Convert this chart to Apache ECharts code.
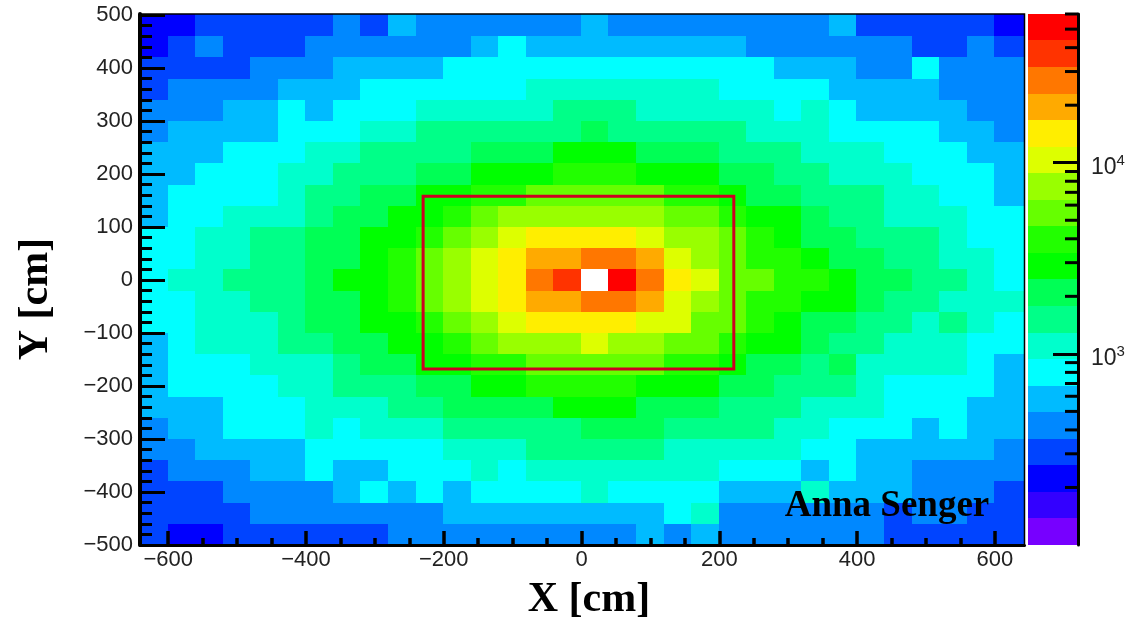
<!DOCTYPE html>
<html>
<head>
<meta charset="utf-8">
<style>html,body{margin:0;padding:0;background:#fff}#c{width:1137px;height:619px}</style>
<script src="https://cdn.jsdelivr.net/npm/echarts@6/dist/echarts.min.js"></script>
</head>
<body>
<div id="c"></div>
<script>
// Histogram bin edges (cm)
const xEdges = [-641,-601,-561,-521,-481,-441,-401,-361,-321,-281,-241,-201,-161,-121,-81,-41,-1,39,79,119,159,199,239,279,319,359,399,439,479,519,559,599,643];
const yEdges = [502,460,420,380,340,300,260,220,180,140,100,60,20,-20,-60,-100,-140,-180,-220,-260,-300,-340,-380,-420,-460,-500];

// Estimated counts per bin, one list per row, top row first
const rowY480 = [220,220,300,300,300,300,300,420,300,580,420,420,420,420,420,420,580,420,420,420,420,420,420,420,420,580,300,300,300,300,300,220];
const rowY440 = [220,300,420,300,300,300,420,420,420,420,420,420,580,790,580,580,580,580,580,580,580,580,420,420,420,420,420,420,300,300,420,300];
const rowY400 = [300,300,300,300,420,420,420,580,580,580,580,790,790,790,790,790,790,790,790,790,790,790,790,580,580,580,420,420,790,420,420,420];
const rowY360 = [300,420,420,420,420,580,580,580,790,790,790,790,790,790,1090,1090,1090,1090,1090,1090,1090,790,790,790,790,580,580,580,580,420,420,420];
const rowY320 = [420,420,420,580,580,790,580,790,790,790,1090,1090,1090,1090,1090,1500,1500,1500,1090,1090,1090,1090,1090,790,1090,790,580,580,580,580,420,420];
const rowY280 = [420,580,580,580,580,790,790,790,1090,1090,1500,1500,1500,1500,1500,1500,2060,1500,1500,1500,1500,1500,1090,1090,1090,790,790,790,790,580,580,420];
const rowY240 = [580,580,580,790,790,790,1090,1090,1500,1500,1500,1500,2060,2060,2060,2830,2830,2830,2060,2060,2060,1500,1500,1500,1090,1090,1090,790,790,790,580,580];
const rowY200 = [580,580,790,790,790,1090,1090,1500,1500,1500,2060,2060,2830,2830,2830,3890,3890,3890,2830,2830,2830,2060,2060,1500,1500,1090,1090,1090,790,790,790,580];
const rowY160 = [580,790,790,790,790,1090,1500,1500,2060,2060,2830,2830,3890,3890,5350,5350,5350,5350,5350,3890,3890,2830,2060,2060,1500,1500,1500,1090,1090,790,790,580];
const rowY120 = [580,790,790,1090,1090,1090,1500,2060,2060,2830,2830,3890,5350,7350,7350,7350,7350,7350,7350,5350,5350,3890,2830,2830,2060,1500,1500,1090,1090,1090,790,790];
const rowY80  = [790,790,1090,1090,1500,1500,2060,2060,2830,2830,3890,5350,7350,10100,13900,13900,13900,13900,10100,7350,7350,5350,3890,2830,2060,2060,1500,1500,1500,1090,790,790];
const rowY40  = [790,790,1090,1090,1500,1500,2060,2060,2830,3890,5350,7350,10100,13900,19100,19100,26300,26300,19100,10100,7350,5350,3890,3890,2830,2060,2060,1500,1500,1090,1090,790];
const rowY0   = [790,1090,1090,1500,1500,1500,2060,2830,2830,3890,5350,7350,10100,13900,26300,36200,65000,49700,26300,13900,10100,5350,5350,3890,3890,2830,2060,2060,1500,1500,1090,790];
const rowYm40 = [790,790,1090,1090,1500,1500,2060,2060,2830,3890,5350,7350,10100,13900,19100,19100,26300,26300,19100,10100,7350,5350,3890,3890,2830,2830,2060,1500,1500,1090,1090,1090];
const rowYm80 = [790,790,1090,1090,1090,1500,2060,2060,2830,2830,3890,5350,7350,10100,13900,13900,13900,13900,10100,10100,5350,5350,3890,2830,2060,2060,1500,1500,1090,1500,1090,790];
const rowYm120= [580,790,1090,1090,1090,1500,1500,2060,2060,2830,2830,3890,5350,7350,7350,7350,10100,7350,7350,5350,5350,3890,2830,2830,2060,1500,1500,1090,1090,1090,790,790];
const rowYm160= [580,790,790,790,1090,1090,1090,1500,2060,2060,2830,2830,3890,3890,5350,5350,5350,5350,5350,3890,3890,2830,2060,2060,1500,2060,1090,1090,1090,1090,790,580];
const rowYm200= [580,790,790,790,790,1090,1090,1500,1500,1500,2060,2060,2830,2830,3890,3890,3890,3890,2830,2830,2830,2060,2060,1500,1500,1500,1090,790,790,790,790,580];
const rowYm240= [580,580,580,790,790,790,1090,1090,1090,1500,1500,2060,2060,2060,2060,2830,2830,2830,2060,2060,2060,1500,1500,1500,1090,1090,1090,790,790,790,580,580];
const rowYm280= [420,580,580,790,790,790,1090,790,1090,1090,1090,1500,1500,1500,1500,1500,2060,2060,2060,1500,1500,1500,1500,1090,1090,790,790,790,580,790,580,580];
const rowYm320= [420,420,580,580,580,580,790,790,790,790,790,1090,1090,1090,1500,1500,1500,1500,1500,1090,1090,1090,1090,1090,790,790,580,580,580,580,580,420];
const rowYm360= [300,420,420,420,580,580,790,580,580,790,790,790,1090,790,1090,1090,1090,1090,1090,1090,1090,790,790,790,580,790,580,580,420,420,420,420];
const rowYm400= [300,300,300,420,420,420,420,580,790,580,790,580,790,790,790,790,1090,790,790,790,790,580,580,580,1090,580,580,580,420,420,420,300];
const rowYm440= [300,300,300,300,420,420,420,420,420,420,420,580,580,580,580,580,580,580,580,790,1090,420,420,420,420,420,420,300,420,420,300,300];
const rowYm480= [300,220,220,300,300,300,300,300,300,420,420,420,420,420,420,420,420,420,580,420,580,420,420,420,420,420,420,300,300,300,300,300];
const rows = [rowY480,rowY440,rowY400,rowY360,rowY320,rowY280,rowY240,rowY200,rowY160,rowY120,rowY80,rowY40,rowY0,rowYm40,rowYm80,rowYm120,rowYm160,rowYm200,rowYm240,rowYm280,rowYm320,rowYm360,rowYm400,rowYm440,rowYm480];

// Colour scale: bin edges of the palette and its colours, low to high
const zEdges = [100,138,190,261,360,495,682,939,1293,1780,2450,3374,4646,6397,8810,12130,16700,23000,31670,43610,60000];
const zColors = ['#7700ff','#3300ff','#0000ff','#0044ff','#0088ff','#00bbff','#00ffff','#00ffcc','#00ff88','#00ff55','#00ff00','#22ff00','#66ff00','#99ff00','#ddff00','#ffee00','#ffaa00','#ff7700','#ff3300','#ff0000'];
const zMinorTicks = [200,300,400,500,600,700,800,900,2000,3000,4000,5000,6000,7000,8000,9000,20000,30000,40000,50000,60000];

// Tick labels
const xMajorTicks = [-600,-400,-200,0,200,400,600];
const xMinorTicks = [-550,-500,-450,-350,-300,-250,-150,-100,-50,50,100,150,250,300,350,450,500,550];
const yMajorTicks = [-500,-400,-300,-200,-100,0,100,200,300,400,500];
const yMinorTicks = [-480,-460,-440,-420,-380,-360,-340,-320,-280,-260,-240,-220,-180,-160,-140,-120,-80,-60,-40,-20,20,40,60,80,120,140,160,180,220,240,260,280,320,340,360,380,420,440,460,480];

// Red selection box: xMin, xMax, yMin, yMax
const boxRange = [-230,221,-168,158];

const cells = [];
rows.forEach(function (row, r) {
  row.forEach(function (v, c) {
    cells.push([xEdges[c], xEdges[c + 1], yEdges[r + 1], yEdges[r], v]);
  });
});
const pieces = zColors.map(function (col, i) {
  return { gte: zEdges[i], lt: zEdges[i + 1], color: col };
});
pieces.push({ gte: zEdges[zEdges.length - 1], color: '#ffffff' });
const barData = zColors.map(function (col, i) { return [zEdges[i], zEdges[i + 1], i]; });
const minusFmt = function (v) { return String(v).replace('-', '\u2212'); };
const labelFont = { fontFamily: 'Liberation Sans', fontSize: 22, color: '#222' };

const chart = echarts.init(document.getElementById('c'), null, { renderer: 'canvas' });
chart.setOption({
  animation: false,
  backgroundColor: '#ffffff',
  grid: [
    { left: 140, top: 14, width: 884.5, height: 531, show: true, z: 20, backgroundColor: 'transparent', borderColor: '#000', borderWidth: 1.5 },
    { left: 1028, top: 14, width: 50, height: 531 }
  ],
  xAxis: [
    { type: 'value', gridIndex: 0, min: -641, max: 643, position: 'bottom', z: 30, splitLine: { show: false },
      axisLine: { show: true, onZero: false, lineStyle: { color: '#000', width: 3 } },
      axisTick: { show: true, inside: true, length: 14, customValues: xMajorTicks, lineStyle: { color: '#000', width: 3.5 } },
      axisLabel: Object.assign({ customValues: xMajorTicks, margin: 4, formatter: minusFmt }, labelFont) },
    { type: 'value', gridIndex: 0, min: -641, max: 643, position: 'bottom', z: 30, splitLine: { show: false },
      axisLine: { show: false, onZero: false },
      axisTick: { show: true, inside: true, length: 7, customValues: xMinorTicks, lineStyle: { color: '#000', width: 3.5 } },
      axisLabel: { show: false } },
    { type: 'value', gridIndex: 1, min: 0, max: 1, show: false }
  ],
  yAxis: [
    { type: 'value', gridIndex: 0, min: -500, max: 502, position: 'left', z: 30, splitLine: { show: false },
      axisLine: { show: true, onZero: false, lineStyle: { color: '#000', width: 4 } },
      axisTick: { show: true, inside: true, length: 25, customValues: yMajorTicks, lineStyle: { color: '#000', width: 3 } },
      axisLabel: Object.assign({ customValues: yMajorTicks, margin: 7, padding: [3, 0, 0, 0], formatter: minusFmt }, labelFont) },
    { type: 'value', gridIndex: 0, min: -500, max: 502, position: 'left', z: 30, splitLine: { show: false },
      axisLine: { show: false, onZero: false },
      axisTick: { show: true, inside: true, length: 12, customValues: yMinorTicks, lineStyle: { color: '#000', width: 3 } },
      axisLabel: { show: false } },
    { type: 'log', logBase: 10, gridIndex: 1, min: 100, max: 60000, position: 'right', z: 30, splitLine: { show: false },
      axisLine: { show: true, onZero: false, lineStyle: { color: '#000', width: 3 } },
      axisTick: { show: true, inside: true, length: 25, lineStyle: { color: '#000', width: 3 } },
      minorTick: { show: false },
      axisLabel: { margin: 13, padding: [10, 0, 0, 0], showMinLabel: false, showMaxLabel: false,
        formatter: function (v) { return '{a|10}{b|' + Math.round(Math.log10(v)) + '}'; },
        rich: {
          a: { fontFamily: 'Liberation Sans', fontSize: 23, color: '#222' },
          b: { fontFamily: 'Liberation Sans', fontSize: 15, color: '#222', padding: [0, 0, 14, 0] }
        } } }
  ],
  visualMap: [{ type: 'piecewise', show: false, seriesIndex: 0, dimension: 4, pieces: pieces }],
  series: [
    { type: 'custom', name: 'counts', xAxisIndex: 0, yAxisIndex: 0, z: 2, data: cells, encode: { x: [0, 1], y: [2, 3] },
      renderItem: function (params, api) {
        const a = api.coord([api.value(0), api.value(3)]);
        const b = api.coord([api.value(1), api.value(2)]);
        const x0 = Math.round(a[0]), y0 = Math.round(a[1]), x1 = Math.round(b[0]), y1 = Math.round(b[1]);
        return { type: 'rect', shape: { x: x0, y: y0, width: x1 - x0, height: y1 - y0 }, style: { fill: api.visual('color') } };
      } },
    { type: 'custom', name: 'box', xAxisIndex: 0, yAxisIndex: 0, z: 5, data: [boxRange], encode: { x: [0, 1], y: [2, 3] },
      renderItem: function (params, api) {
        const a = api.coord([api.value(0), api.value(3)]);
        const b = api.coord([api.value(1), api.value(2)]);
        return { type: 'rect', shape: { x: a[0], y: a[1], width: b[0] - a[0], height: b[1] - a[1] },
          style: { fill: 'transparent', stroke: '#cc0022', lineWidth: 3 } };
      } },
    { type: 'custom', name: 'palette', xAxisIndex: 2, yAxisIndex: 2, z: 2, data: barData, encode: { y: [0, 1] },
      renderItem: function (params, api) {
        const a = api.coord([0, api.value(1)]);
        const b = api.coord([1, api.value(0)]);
        const y0 = Math.round(a[1]), y1 = Math.round(b[1]);
        return { type: 'rect', shape: { x: a[0], y: y0, width: b[0] - a[0], height: y1 - y0 }, style: { fill: zColors[api.value(2)] } };
      } },
    { type: 'custom', name: 'paletteTicks', xAxisIndex: 2, yAxisIndex: 2, z: 6, clip: false, data: zMinorTicks.map(function (v) { return [1, v]; }), encode: { x: 0, y: 1 },
      renderItem: function (params, api) {
        const p = api.coord([api.value(0), api.value(1)]);
        return { type: 'line', shape: { x1: p[0] - 13, y1: p[1], x2: p[0], y2: p[1] }, style: { stroke: '#000', lineWidth: 3 } };
      } }
  ],
  graphic: [
    { type: 'text', z: 50, x: 589, y: 600, style: { text: 'X [cm]', font: 'bold 42px "Liberation Serif"', fill: '#000', align: 'center', verticalAlign: 'middle' } },
    { type: 'text', z: 50, x: 36, y: 299, rotation: Math.PI / 2, style: { text: 'Y [cm]', font: 'bold 42px "Liberation Serif"', fill: '#000', align: 'center', verticalAlign: 'middle' } },
    { type: 'text', z: 50, x: 887, y: 506, style: { text: 'Anna Senger', font: 'bold 37px "Liberation Serif"', fill: '#000', align: 'center', verticalAlign: 'middle' } }
  ]
});
</script>
</body>
</html>
